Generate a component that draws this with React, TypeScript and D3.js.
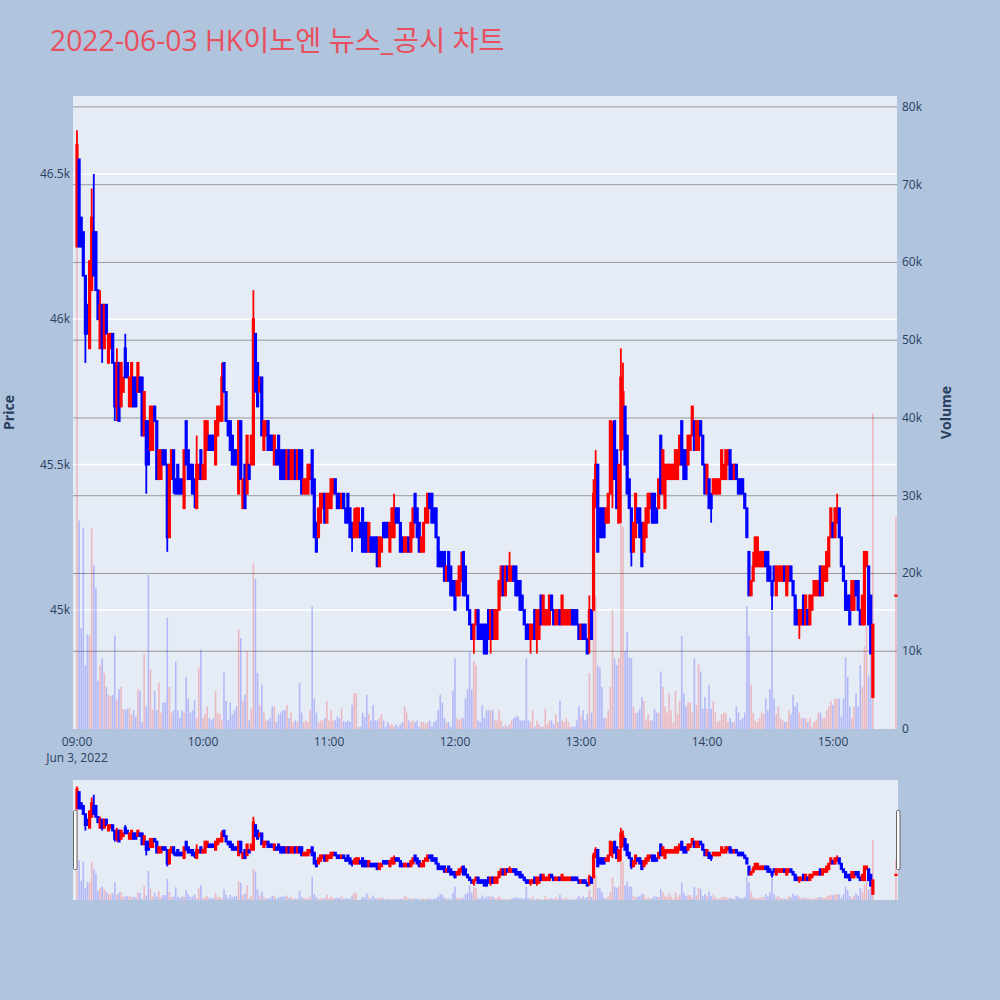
import React from 'react';
import * as d3 from 'd3';

const chartTitle = '2022-06-03 HK이노엔 뉴스_공시 차트';
const dateLabel = 'Jun 3, 2022';
const regularMinutes = 380; // one-minute candles 09:00 .. 15:19, then the 15:30 closing auction

// one-minute candles (won)
const open = [
  46250,46550,46350,46300,46150,46050,45900,46100,46300,46300,
  46100,45900,46050,45900,46050,45850,45900,45950,45850,45700,
  45850,45700,45750,45900,45850,45700,45700,45800,45800,45750,
  45800,45800,45600,45650,45650,45550,45550,45700,45650,45450,
  45450,45550,45550,45500,45250,45450,45550,45450,45500,45450,
  45450,45350,45650,45550,45500,45500,45450,45350,45450,45550,
  45450,45450,45550,45600,45600,45600,45500,45600,45650,45650,
  45850,45750,45650,45650,45600,45550,45550,45400,45650,45350,
  45500,45400,45500,45500,45500,45950,45850,45750,45800,45550,
  45600,45650,45600,45600,45500,45550,45600,45550,45550,45550,
  45450,45550,45450,45450,45550,45450,45550,45550,45400,45400,
  45400,45450,45550,45450,45300,45250,45300,45350,45400,45300,
  45350,45350,45400,45450,45400,45400,45350,45400,45350,45400,
  45350,45300,45250,45250,45250,45300,45350,45300,45300,45200,
  45250,45250,45250,45250,45150,45200,45300,45300,45300,45200,
  45250,45250,45350,45350,45300,45250,45200,45200,45250,45200,
  45250,45400,45350,45300,45200,45200,45300,45300,45400,45400,
  45350,45350,45250,45200,45200,45200,45100,45200,45150,45100,
  45100,45050,45050,45100,45200,45150,45050,45000,44950,44900,
  44950,45000,44950,44950,44950,44950,45000,44900,45000,44900,
  44900,45000,45050,45150,45050,45150,45100,45100,45150,45150,
  45100,45100,45050,45000,44950,44950,44900,44900,45000,44900,
  44900,45050,44950,44950,44950,44950,45050,45000,44950,44950,
  45000,44950,44950,44950,44950,44950,45000,45000,45000,44950,
  44900,44950,44950,44900,44900,45000,45000,45400,45500,45350,
  45350,45350,45300,45300,45400,45450,45650,45550,45300,45550,
  45600,45700,45600,45450,45350,45200,45250,45350,45350,45300,
  45200,45250,45300,45350,45400,45400,45350,45350,45600,45400,
  45350,45450,45450,45450,45450,45450,45450,45500,45650,45550,
  45550,45500,45550,45600,45650,45550,45550,45650,45600,45500,
  45400,45450,45400,45400,45400,45400,45400,45450,45450,45450,
  45500,45550,45500,45450,45500,45450,45450,45450,45400,45350,
  45200,45050,45100,45150,45150,45150,45150,45150,45200,45200,
  45150,45100,45150,45050,45100,45100,45100,45150,45050,45100,
  45150,45100,45050,45000,44950,44950,45050,44950,45000,44950,
  45000,45050,45050,45050,45150,45050,45100,45100,45150,45250,
  45300,45250,45300,45350,45250,45150,45100,45050,45050,45000,
  45000,45100,45100,45000,44950,44950,45150,45150,45050,44700,
  45050,
];
const high = [
  46650,46550,46350,46300,46150,46050,46200,46450,46500,46300,
  46100,46100,46050,46050,46050,45950,45950,45950,45850,45900,
  45850,45850,45800,45950,45850,45800,45850,45800,45800,45850,
  45800,45800,45750,45650,45650,45700,45700,45700,45650,45550,
  45550,45550,45550,45500,45500,45550,45550,45450,45500,45450,
  45450,45550,45650,45550,45500,45500,45450,45600,45500,45550,
  45500,45650,45650,45600,45600,45600,45650,45700,45700,45850,
  45850,45750,45650,45650,45600,45550,45550,45650,45650,45450,
  45500,45600,45500,45600,46100,45950,45850,45800,45800,45650,
  45650,45650,45600,45600,45600,45550,45600,45550,45550,45550,
  45550,45550,45550,45550,45550,45550,45550,45550,45450,45450,
  45500,45500,45550,45450,45300,45350,45400,45400,45400,45400,
  45400,45450,45450,45450,45400,45400,45400,45400,45350,45400,
  45350,45300,45350,45350,45350,45300,45350,45300,45300,45300,
  45250,45250,45250,45250,45250,45250,45300,45300,45300,45300,
  45350,45400,45350,45350,45300,45250,45250,45250,45250,45300,
  45350,45400,45350,45300,45250,45300,45350,45400,45400,45400,
  45350,45350,45250,45200,45200,45200,45150,45200,45150,45100,
  45100,45100,45150,45200,45200,45150,45050,45000,44950,44950,
  45000,45000,44950,44950,44950,44950,45000,45000,45000,45000,
  45000,45100,45150,45150,45150,45150,45200,45150,45150,45150,
  45100,45100,45050,45000,44950,44950,44950,44950,45000,45000,
  45000,45050,45050,45000,45000,45050,45050,45000,45000,45000,
  45000,45050,45000,45000,45000,45000,45000,45000,45000,44950,
  44950,44950,44950,44900,45050,45000,45450,45550,45500,45350,
  45350,45350,45350,45400,45650,45650,45650,45550,45500,45900,
  45850,45700,45600,45450,45350,45300,45400,45350,45350,45300,
  45300,45350,45400,45400,45400,45400,45350,45450,45600,45550,
  45500,45500,45500,45500,45500,45550,45550,45600,45650,45550,
  45550,45600,45600,45700,45650,45650,45650,45650,45600,45500,
  45500,45450,45400,45450,45450,45450,45450,45550,45500,45550,
  45550,45550,45500,45500,45500,45450,45450,45450,45400,45350,
  45200,45100,45200,45250,45250,45200,45200,45200,45200,45200,
  45150,45100,45150,45150,45150,45150,45150,45150,45150,45150,
  45150,45100,45050,45000,45000,45000,45050,45050,45000,45050,
  45050,45100,45100,45100,45150,45150,45150,45200,45250,45350,
  45300,45350,45400,45350,45250,45150,45100,45050,45050,45100,
  45100,45100,45100,45000,45050,45200,45200,45150,45050,44950,
  45050,
];
const low = [
  46250,46250,46250,46150,45850,45950,45900,46100,46150,46100,
  46000,45900,45850,45900,45950,45850,45900,45850,45650,45650,
  45650,45700,45750,45800,45800,45700,45700,45700,45700,45750,
  45750,45600,45600,45400,45500,45550,45550,45650,45450,45450,
  45450,45500,45500,45200,45250,45450,45400,45400,45400,45400,
  45400,45350,45500,45450,45450,45400,45350,45350,45450,45450,
  45450,45450,45550,45550,45550,45550,45500,45600,45650,45650,
  45750,45650,45600,45550,45500,45500,45500,45400,45450,45350,
  45350,45400,45450,45500,45500,45750,45700,45750,45600,45550,
  45600,45550,45550,45550,45500,45500,45500,45450,45450,45450,
  45450,45450,45450,45450,45450,45450,45450,45400,45400,45400,
  45400,45450,45400,45250,45200,45250,45300,45350,45300,45300,
  45350,45350,45400,45400,45350,45350,45350,45350,45300,45300,
  45250,45200,45250,45250,45250,45250,45200,45200,45200,45200,
  45200,45200,45200,45150,45150,45200,45250,45250,45250,45200,
  45250,45250,45300,45300,45200,45200,45200,45200,45200,45200,
  45250,45300,45250,45200,45200,45200,45300,45300,45350,45300,
  45300,45250,45150,45150,45150,45100,45100,45100,45050,45050,
  45000,45050,45050,45100,45050,45050,45000,44950,44900,44850,
  44950,44900,44900,44900,44850,44850,44900,44850,44900,44900,
  44900,45000,45050,45050,45050,45100,45100,45100,45100,45050,
  45050,45000,45000,44950,44900,44900,44850,44900,44900,44850,
  44900,44950,44950,44950,44950,44950,45000,44950,44950,44950,
  44950,44950,44950,44950,44950,44950,44950,44950,44950,44900,
  44900,44900,44900,44850,44850,44900,45000,45350,45200,45250,
  45250,45250,45300,45300,45400,45350,45450,45350,45300,45300,
  45550,45500,45400,45350,45150,45200,45250,45300,45250,45150,
  45200,45250,45300,45350,45300,45300,45300,45350,45400,45400,
  45350,45450,45450,45450,45450,45450,45450,45500,45500,45450,
  45450,45500,45550,45600,45550,45550,45550,45600,45500,45400,
  45400,45350,45300,45400,45400,45400,45400,45450,45450,45450,
  45500,45450,45450,45450,45450,45400,45400,45400,45350,45250,
  45050,45050,45100,45150,45150,45150,45150,45150,45150,45100,
  45100,45000,45100,45050,45100,45100,45100,45100,45050,45100,
  45100,45050,44950,44950,44900,44950,44950,44950,44950,44950,
  45000,45050,45050,45050,45050,45050,45100,45100,45150,45250,
  45250,45250,45300,45250,45150,45100,45000,45000,44950,45000,
  45000,45050,45000,44950,44950,44950,45150,44950,44850,44700,
  45050,
];
const close = [
  46600,46250,46250,46150,45950,45950,46200,46350,46150,46100,
  46000,46050,45900,46050,45950,45950,45950,45850,45700,45850,
  45650,45850,45800,45800,45800,45800,45850,45700,45700,45850,
  45750,45600,45750,45500,45500,45700,45700,45650,45450,45550,
  45550,45500,45500,45250,45500,45550,45450,45400,45400,45400,
  45400,45550,45500,45450,45450,45400,45400,45500,45500,45450,
  45500,45650,45650,45550,45550,45550,45650,45700,45700,45800,
  45750,45650,45600,45550,45500,45500,45500,45650,45450,45450,
  45350,45600,45450,45600,46000,45750,45700,45800,45600,45650,
  45650,45550,45550,45550,45600,45500,45500,45450,45450,45450,
  45550,45450,45550,45550,45450,45550,45450,45400,45450,45450,
  45500,45500,45400,45250,45200,45350,45400,45400,45300,45400,
  45400,45450,45450,45400,45350,45350,45400,45350,45300,45300,
  45250,45250,45300,45350,45350,45250,45200,45200,45200,45300,
  45200,45200,45200,45150,45250,45250,45250,45250,45250,45300,
  45350,45350,45300,45300,45200,45200,45250,45250,45200,45300,
  45350,45300,45250,45200,45250,45300,45350,45400,45350,45300,
  45300,45250,45150,45150,45150,45100,45150,45100,45050,45050,
  45000,45100,45150,45150,45050,45050,45000,44950,44900,44950,
  45000,44900,44900,44900,44850,44850,44900,45000,44900,45000,
  45000,45100,45150,45050,45150,45100,45150,45150,45100,45050,
  45050,45000,45000,44950,44900,44900,44950,44950,44900,45000,
  45000,44950,45050,45000,45000,45050,45000,44950,45000,45000,
  44950,45050,45000,45000,45000,45000,44950,44950,44950,44900,
  44950,44900,44900,44850,45000,44900,45400,45500,45200,45250,
  45250,45250,45350,45400,45650,45600,45450,45350,45500,45800,
  45750,45500,45400,45350,45200,45300,45400,45300,45250,45150,
  45300,45350,45400,45400,45300,45300,45300,45450,45400,45550,
  45500,45500,45500,45500,45500,45550,45550,45600,45500,45450,
  45450,45600,45600,45700,45550,45650,45650,45600,45500,45400,
  45500,45350,45350,45450,45450,45450,45450,45550,45500,45550,
  45550,45450,45450,45500,45450,45400,45400,45400,45350,45250,
  45050,45100,45150,45250,45250,45200,45200,45200,45150,45100,
  45100,45050,45100,45150,45150,45150,45150,45100,45150,45150,
  45100,45050,44950,44950,45000,45000,44950,45050,44950,45050,
  45050,45100,45100,45100,45050,45150,45150,45200,45250,45350,
  45250,45350,45350,45250,45150,45100,45000,45000,44950,45100,
  45100,45050,45000,44950,45050,45200,45200,44950,44850,44950,
  45050,
];
// shares traded per minute
const volume = [
  62000,26800,13000,25900,8200,12200,12000,25800,21100,18100,
  6200,8200,9100,7200,5400,4400,4200,4400,12000,3700,
  5100,5400,2500,2500,2600,2700,1900,2400,1600,5100,
  4900,900,9700,2900,19800,7700,2500,4900,2400,5900,
  2100,3400,3400,14300,5400,2100,2400,8700,2400,1400,
  2400,2100,6700,3900,2100,2400,3700,1400,7900,10200,
  1400,1900,2900,1400,1100,1400,4900,2100,1900,1100,
  7400,3600,1100,3400,1900,2400,2900,12800,11700,3600,
  4400,10000,1100,2600,21300,19300,7200,3100,5700,2100,
  1100,1100,1400,2900,2900,900,1900,2100,2400,2400,
  3100,1400,2100,900,1100,900,5900,2100,900,1100,
  900,2400,15800,3900,2100,900,1100,1100,1400,3600,
  1100,2400,1100,1100,1600,1400,2600,1000,900,1100,
  900,3100,4600,4600,300,300,2100,1600,4400,1900,
  1100,3100,1100,1100,1400,1900,1100,300,900,600,
  600,300,600,300,600,900,2900,2100,1100,900,
  1100,900,1100,300,900,900,600,900,1100,300,
  900,1100,2400,4400,3400,1400,900,900,300,4900,
  9100,1400,1100,1400,1400,3900,5100,10000,5100,8700,
  8200,1100,900,3100,1400,2400,2400,2400,2400,1100,
  1100,2400,1100,300,600,300,600,1100,1400,1600,
  1600,1100,1100,1100,9100,1100,900,2400,300,1100,
  600,300,300,2600,600,1100,1100,600,1900,900,
  3600,1100,900,1400,900,300,300,300,1100,2900,
  1600,2400,1100,1900,7200,2100,17600,17000,8200,7900,
  5400,1400,1400,2400,5400,15300,9100,8200,9100,27000,
  26000,10000,12500,9200,9100,2900,2100,2100,2600,4100,
  3600,1100,1900,1100,1100,2600,2100,2100,7400,5400,
  2900,2100,4600,2400,900,4900,1900,3600,12000,4600,
  2900,3400,3400,2100,9100,3100,8400,7400,2600,4100,
  2600,5700,2600,3600,2100,900,1100,1900,2100,2100,
  900,1400,900,900,2900,2100,1100,1400,2100,15800,
  12000,5700,2100,1100,900,1400,2100,1900,3900,2400,
  5100,15100,3900,1900,2900,1400,1100,900,900,2400,
  1900,4400,2900,3400,2100,1400,1400,1400,900,1400,
  300,900,1100,2100,2100,1400,1400,2400,2900,3600,
  3100,3900,3900,3900,1600,3900,9200,6700,2900,1400,
  2900,4600,2900,8200,5400,10600,13200,6900,12700,40600,
  27300,
];

const priceTicks = [45000, 45500, 46000, 46500];
const volumeTicks = [0, 10000, 20000, 30000, 40000, 50000, 60000, 70000, 80000];
const hourTicks = [9, 10, 11, 12, 13, 14, 15];

const RED = '#FF0000';
const BLUE = '#0000FF';
const FONT = '"Open Sans", verdana, arial, sans-serif';
const TEXT = '#2a3f5f';

export default function App() {
  const n = open.length;
  const times = d3.range(n).map((i) =>
    i < regularMinutes ? new Date(2022, 5, 3, 9, i) : new Date(2022, 5, 3, 15, 30)
  );
  const plot = { l: 73, r: 897, t: 96, b: 729 };
  const sl = { t: 780, b: 900 };

  const x = d3
    .scaleTime()
    .domain([d3.timeSecond.offset(times[0], -114), d3.timeSecond.offset(times[n - 1], 30)])
    .range([plot.l, plot.r]);
  const lo = d3.min(low) as number;
  const hi = d3.max(high) as number;
  const span = hi - lo;
  const yP = d3
    .scaleLinear()
    .domain([lo - span * 0.0561, hi + span * 0.0605])
    .range([plot.b, plot.t]);
  const yV = d3.scaleLinear().domain([0, (d3.max(volume) as number) * 1.313]).range([plot.b, plot.t]);
  const yPs = yP.copy().range([sl.b, sl.t]);
  const yVs = yV.copy().range([sl.b, sl.t]);

  const up = close.map((c, i) => c > open[i] || (c === open[i] && i > 0 && c > close[i - 1]));
  const fmt = d3.format('~s');

  const candles = (ys: d3.ScaleLinear<number, number>, k: string, bw: number, lw: number) =>
    times.map((t, i) => {
      const cx = x(t);
      const col = up[i] ? RED : BLUE;
      const top = ys(Math.max(open[i], close[i]));
      const bot = ys(Math.min(open[i], close[i]));
      return (
        <g key={k + i}>
          <line x1={cx} x2={cx} y1={ys(high[i])} y2={ys(low[i])} stroke={col} strokeWidth={lw} />
          <rect
            x={cx - bw / 2}
            y={top}
            width={bw}
            height={Math.max(bot - top, 0.4)}
            fill={col}
            stroke={col}
            strokeWidth={lw}
          />
        </g>
      );
    });

  const volBars = (ys: d3.ScaleLinear<number, number>, base: number, k: string) =>
    times.map((t, i) => {
      const cx = x(t);
      const yv = ys(volume[i]);
      return (
        <rect
          key={k + i}
          x={cx - 0.8}
          y={yv}
          width={1.6}
          height={Math.max(base - yv, 0)}
          fill={up[i] ? RED : BLUE}
          fillOpacity={0.22}
        />
      );
    });

  return (
    <svg
      width={1000}
      height={1000}
      style={{ position: 'absolute', left: 0, top: 0, display: 'block' }}
      fontFamily={FONT}
    >
      <rect x={0} y={0} width={1000} height={1000} fill="#B0C4DE" />
      <text x={50} y={51} fontSize={28.3} fill="#E8505E" fontFamily={'"Open Sans", "Noto Sans CJK KR", sans-serif'}>
        {chartTitle}
      </text>

      {/* main plot */}
      <rect x={plot.l} y={plot.t} width={plot.r - plot.l} height={plot.b - plot.t} fill="#E5ECF6" />
      {priceTicks.map((p) => (
        <line key={'pg' + p} x1={plot.l} x2={plot.r} y1={yP(p)} y2={yP(p)} stroke="#FFFFFF" strokeWidth={1.5} />
      ))}
      {volumeTicks.slice(1).map((v) => (
        <line key={'vg' + v} x1={plot.l} x2={plot.r} y1={yV(v)} y2={yV(v)} stroke="#999999" strokeWidth={1} />
      ))}
      {volBars(yV, plot.b, 'v')}
      {candles(yP, 'c', 1.4, 1.8)}

      {/* axes labels */}
      {priceTicks.map((p) => (
        <text key={'pt' + p} x={70} y={yP(p) + 4} fontSize={12} fill={TEXT} textAnchor="end">
          {fmt(p)}
        </text>
      ))}
      {volumeTicks.map((v) => (
        <text key={'vt' + v} x={902} y={yV(v) + 4} fontSize={12} fill={TEXT} textAnchor="start">
          {fmt(v)}
        </text>
      ))}
      {hourTicks.map((h) => {
        const t = new Date(2022, 5, 3, h, 0);
        return (
          <text key={'xt' + h} x={x(t)} y={746} fontSize={12} fill={TEXT} textAnchor="middle">
            {d3.timeFormat('%H:%M')(t)}
          </text>
        );
      })}
      <text x={x(new Date(2022, 5, 3, 9, 0))} y={762} fontSize={12} fill={TEXT} textAnchor="middle">
        {dateLabel}
      </text>
      <text
        transform={`translate(14,${(plot.t + plot.b) / 2}) rotate(-90)`}
        fontSize={14}
        fontWeight="bold"
        fill={TEXT}
        textAnchor="middle"
      >
        Price
      </text>
      <text
        transform={`translate(951,${(plot.t + plot.b) / 2}) rotate(-90)`}
        fontSize={14}
        fontWeight="bold"
        fill={TEXT}
        textAnchor="middle"
      >
        Volume
      </text>

      {/* range slider */}
      <rect x={plot.l} y={sl.t} width={plot.r - plot.l + 1} height={sl.b - sl.t} fill="#E5ECF6" />
      {volBars(yVs, sl.b, 'sv')}
      {candles(yPs, 'sc', 1.4, 1.8)}
      <rect x={73.5} y={810.5} width={3.5} height={59} rx={1} fill="#FFFFFF" stroke="#666666" strokeWidth={1} />
      <rect x={896.5} y={810.5} width={3.5} height={59} rx={1} fill="#FFFFFF" stroke="#666666" strokeWidth={1} />
    </svg>
  );
}
